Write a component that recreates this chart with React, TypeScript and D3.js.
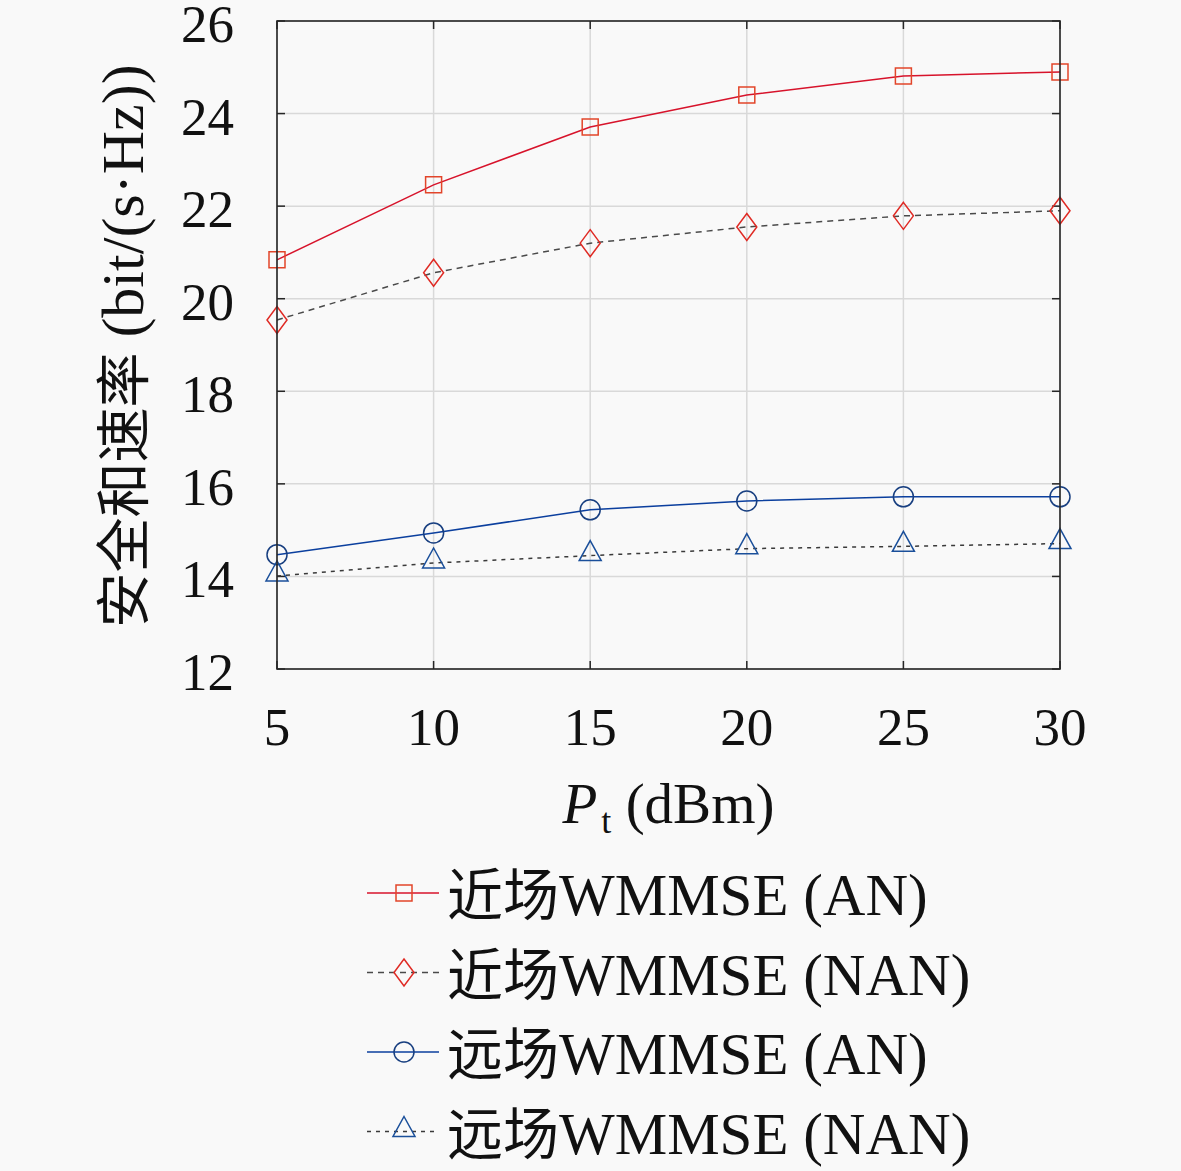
import { useMemo } from "react";
import * as d3 from "d3";

const WIDTH = 1181;
const HEIGHT = 1171;
const MARGIN = { top: 21, right: 121, bottom: 502, left: 277 };

const SERIF = "'Liberation Serif', 'Times New Roman', serif";
const CJK = "'Noto Sans CJK SC', sans-serif";

// x: transmit power (dBm)
const powerDbm = [5, 10, 15, 20, 25, 30];
const xTicks = [5, 10, 15, 20, 25, 30];
const yTicks = [12, 14, 16, 18, 20, 22, 24, 26];

// secrecy sum rate (bit/(s·Hz))
const nearAN = [20.84, 22.46, 23.71, 24.4, 24.81, 24.9];
const nearNAN = [19.54, 20.56, 21.2, 21.55, 21.79, 21.9];
const farAN = [14.47, 14.94, 15.44, 15.63, 15.72, 15.72];
const farNAN = [14.01, 14.29, 14.45, 14.6, 14.65, 14.71];

const seriesNames = [
  ["近场", "WMMSE (AN)"],
  ["近场", "WMMSE (NAN)"],
  ["远场", "WMMSE (AN)"],
  ["远场", "WMMSE (NAN)"],
];

type Marker = "square" | "diamond" | "circle" | "triangle";

const markerPath = (m: Marker) => {
  if (m === "square") return "M-8,-8H8V8H-8Z";
  if (m === "diamond") return "M0,-13.5L10,0L0,13.5L-10,0Z";
  if (m === "triangle") return "M0,-15L11,5L-11,5Z";
  return d3.symbol().type(d3.symbolCircle).size(Math.PI * 10 * 10)() as string;
};

const series = [
  { values: nearAN, line: "#d7132b", dash: "none", marker: "square" as Marker, edge: "#e2452a" },
  { values: nearNAN, line: "#4a4a4a", dash: "6,5", marker: "diamond" as Marker, edge: "#df2a24" },
  { values: farAN, line: "#0b3f9e", dash: "none", marker: "circle" as Marker, edge: "#183f80" },
  { values: farNAN, line: "#3a3a3a", dash: "4,5", marker: "triangle" as Marker, edge: "#1a4f9a" },
];

export default function App() {
  const boundsWidth = WIDTH - MARGIN.left - MARGIN.right;
  const boundsHeight = HEIGHT - MARGIN.top - MARGIN.bottom;

  const xScale = useMemo(
    () => d3.scaleLinear().domain([5, 30]).range([0, boundsWidth]),
    [boundsWidth]
  );
  const yScale = useMemo(
    () => d3.scaleLinear().domain([12, 26]).range([boundsHeight, 0]),
    [boundsHeight]
  );

  const lineGen = d3
    .line<number>()
    .x((_, i) => xScale(powerDbm[i]))
    .y((d) => yScale(d));

  const tickLen = 8;

  return (
    <svg
      width={WIDTH}
      height={HEIGHT}
      style={{ position: "absolute", left: 0, top: 0, background: "#f9f9f9" }}
    >
      <g transform={`translate(${MARGIN.left},${MARGIN.top})`}>
        {/* grid */}
        {xTicks.map((t) => (
          <line
            key={"gx" + t}
            x1={xScale(t)}
            x2={xScale(t)}
            y1={0}
            y2={boundsHeight}
            stroke="#d9d9d9"
            strokeWidth={1.5}
          />
        ))}
        {yTicks.map((t) => (
          <line
            key={"gy" + t}
            x1={0}
            x2={boundsWidth}
            y1={yScale(t)}
            y2={yScale(t)}
            stroke="#d9d9d9"
            strokeWidth={1.5}
          />
        ))}

        {/* inner ticks on all four sides */}
        {xTicks.map((t) => (
          <g key={"tx" + t} stroke="#262626" strokeWidth={1.5}>
            <line x1={xScale(t)} x2={xScale(t)} y1={boundsHeight} y2={boundsHeight - tickLen} />
            <line x1={xScale(t)} x2={xScale(t)} y1={0} y2={tickLen} />
          </g>
        ))}
        {yTicks.map((t) => (
          <g key={"ty" + t} stroke="#262626" strokeWidth={1.5}>
            <line x1={0} x2={tickLen} y1={yScale(t)} y2={yScale(t)} />
            <line x1={boundsWidth} x2={boundsWidth - tickLen} y1={yScale(t)} y2={yScale(t)} />
          </g>
        ))}

        {/* series */}
        {series.map((s, si) => (
          <g key={"s" + si}>
            <path
              d={lineGen(s.values) as string}
              fill="none"
              stroke={s.line}
              strokeWidth={1.5}
              strokeDasharray={s.dash}
            />
            {s.values.map((v, i) => (
              <path
                key={i}
                d={markerPath(s.marker)}
                transform={`translate(${xScale(powerDbm[i])},${yScale(v)})`}
                fill="none"
                stroke={s.edge}
                strokeWidth={1.5}
              />
            ))}
          </g>
        ))}

        {/* axis box */}
        <rect
          x={0}
          y={0}
          width={boundsWidth}
          height={boundsHeight}
          fill="none"
          stroke="#262626"
          strokeWidth={1.6}
        />

        {/* tick labels */}
        {xTicks.map((t) => (
          <text
            key={"lx" + t}
            x={xScale(t)}
            y={boundsHeight + 76}
            textAnchor="middle"
            fontFamily={SERIF}
            fontSize={53}
            fill="#111"
          >
            {t}
          </text>
        ))}
        {yTicks.map((t) => (
          <text
            key={"ly" + t}
            x={-43}
            y={yScale(t) + 21}
            textAnchor="end"
            fontFamily={SERIF}
            fontSize={53}
            fill="#111"
          >
            {t}
          </text>
        ))}

        {/* x label */}
        <text
          x={boundsWidth / 2}
          y={boundsHeight + 154}
          textAnchor="middle"
          fontFamily={SERIF}
          fontSize={57}
          fill="#111"
        >
          <tspan fontStyle="italic">P</tspan>
          <tspan fontSize={36} dy={10} dx={4}>t</tspan>
          <tspan dy={-10}> (dBm)</tspan>
        </text>
      </g>

      {/* y label */}
      <text
        transform={`translate(143,346) rotate(-90)`}
        textAnchor="middle"
        fill="#111"
      >
        <tspan fontFamily={CJK} fontSize={55}>安全和速率</tspan>
        <tspan fontFamily={SERIF} fontSize={60}> (bit/(s·Hz))</tspan>
      </text>

      {/* legend */}
      {series.map((s, i) => {
        const cy = 893 + i * 79.5;
        return (
          <g key={"leg" + i}>
            <line
              x1={367}
              x2={439}
              y1={cy}
              y2={cy}
              stroke={s.line}
              strokeWidth={1.5}
              strokeDasharray={s.dash}
            />
            <path
              d={markerPath(s.marker)}
              transform={`translate(404,${cy})`}
              fill="none"
              stroke={s.edge}
              strokeWidth={1.5}
            />
            <text x={447} y={cy + 22} fill="#111">
              <tspan fontFamily={CJK} fontSize={56}>{seriesNames[i][0]}</tspan>
              <tspan fontFamily={SERIF} fontSize={59}>{seriesNames[i][1]}</tspan>
            </text>
          </g>
        );
      })}
    </svg>
  );
}
